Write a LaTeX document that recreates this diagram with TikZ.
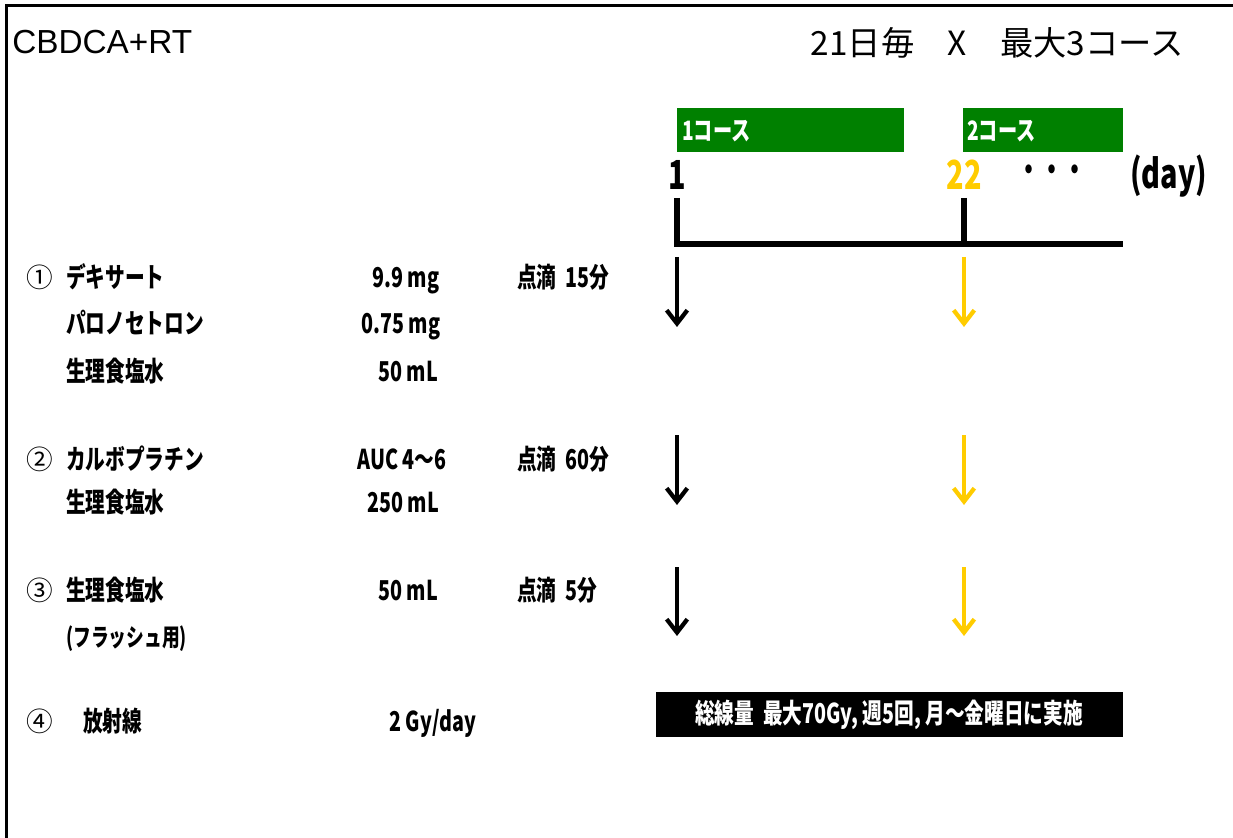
\documentclass[tikz,border=0pt]{standalone}
\usepackage{fontspec}
\setmainfont{Liberation Sans}
\newfontfamily\jpn[FakeStretch=0.72]{Noto Sans CJK JP}
\newfontfamily\jpw{Noto Sans CJK JP}
\usetikzlibrary{arrows.meta}
\definecolor{coursegreen}{RGB}{0,128,0}
\definecolor{daygold}{RGB}{255,204,0}
\tikzset{
  drug/.style={anchor=west, inner sep=0pt, text height=18pt, text depth=0pt,
    font=\jpn\bfseries\fontsize{20.5}{21}\selectfont},
  circnum/.style={drug, font=\jpw\fontsize{20}{21}\selectfont},
  daynum/.style={inner sep=0pt, font=\jpn\bfseries\fontsize{30}{32}\selectfont},
  dosearrow/.style={line width=3.2pt, -{Straight Barb[length=10pt,width=15.5pt]}},
}
\begin{document}
\begin{tikzpicture}[x=0.75pt,y=-0.75pt]
  \useasboundingbox (0,0) rectangle (1233,838);

  % frame
  \draw[line width=2.25pt] (6,838) -- (6,6) -- (1233,6);

  % title
  \node[anchor=west, inner sep=0pt, font=\fontsize{25}{28}\selectfont] (title) at (12,42) {CBDCA+RT};
  \node[anchor=east, inner sep=0pt, font=\jpw\fontsize{25}{27}\selectfont] (cycle) at (1184,43) {21日毎　X　最大3コース};

  % course bars
  \def\xa{677} % day 1
  \def\xb{964} % day 22
  \fill[coursegreen] (\xa,108) rectangle (904,152);
  \fill[coursegreen] (963,108) rectangle (1123,152);
  \node[anchor=west, inner sep=0pt, text=white, font=\jpn\bfseries\fontsize{20}{21}\selectfont] (c1) at (682,131) {1コース};
  \node[anchor=west, inner sep=0pt, text=white, font=\jpn\bfseries\fontsize{20}{21}\selectfont] (c2) at (967,131) {2コース};

  % day labels
  \node[daynum] (d1) at (\xa,175) {1};
  \node[daynum, text=daygold] (d22) at (\xb,175) {22};
  \node[inner sep=0pt, font=\jpn\bfseries\fontsize{24}{25}\selectfont] (dots) at (1052,173) {・・・};
  \node[daynum, anchor=west] (unit) at (1130,176) {(day)};

  % time line
  \coordinate (T1) at (\xa,198);
  \coordinate (B1) at (\xa,244);
  \coordinate (T2) at (\xb,198);
  \coordinate (B2) at (\xb,244);
  \coordinate (E) at (1123,244);
  \draw[line width=4.5pt] (T1) -- (B1) -- (E);
  \draw[line width=4.5pt] (T2) -- (B2);

  % regimen 1
  \node[circnum] (n1) at (26,276) {①};
  \node[drug] (dex) at (66,276) {デキサート};
  \node[drug] (dexd) at (372,276) {9.9 mg};
  \node[drug] (drip1) at (517,276) {点滴\ \ 15分};
  \node[drug] (palo) at (66,322) {パロノセトロン};
  \node[drug] (palod) at (361,322) {0.75 mg};
  \node[drug] (sal1) at (66,369) {生理食塩水};
  \node[drug] (sal1d) at (378,369) {50 mL};

  % regimen 2
  \node[circnum] (n2) at (26,457) {②};
  \node[drug] (cbdca) at (66,457) {カルボプラチン};
  \node[drug] (cbdcad) at (357,457) {AUC 4～6};
  \node[drug] (drip2) at (517,457) {点滴\ \ 60分};
  \node[drug] (sal2) at (66,500) {生理食塩水};
  \node[drug] (sal2d) at (367,500) {250 mL};

  % regimen 3
  \node[circnum] (n3) at (26,588) {③};
  \node[drug] (sal3) at (66,588) {生理食塩水};
  \node[drug] (sal3d) at (378,588) {50 mL};
  \node[drug] (drip3) at (517,588) {点滴\ \ 5分};
  \node[drug, font=\jpn\bfseries\fontsize{18.5}{19}\selectfont] (flush) at (66,634) {(フラッシュ用)};

  % radiation
  \node[circnum] (n4) at (26,719) {④};
  \node[drug] (rt) at (83,719) {放射線};
  \node[drug] (rtd) at (389,719) {2 Gy/day};
  \fill[black] (656,692) rectangle (1123,737);
  \node[inner sep=0pt, text=white, font=\jpn\bfseries\fontsize{20.5}{21}\selectfont] (rttotal) at (889,715) {総線量\ \ 最大70Gy, 週5回, 月～金曜日に実施};

  % arrows
  \foreach \i/\ys/\ye in {1/257/327, 2/435/505, 3/567/636} {
    \coordinate (a\i) at (\xa,\ys);
    \coordinate (b\i) at (\xa,\ye);
    \coordinate (g\i) at (\xb,\ys);
    \coordinate (h\i) at (\xb,\ye);
    \draw[dosearrow] (a\i) -- (b\i);
    \draw[dosearrow, daygold] (g\i) -- (h\i);
  }
\end{tikzpicture}
\end{document}
